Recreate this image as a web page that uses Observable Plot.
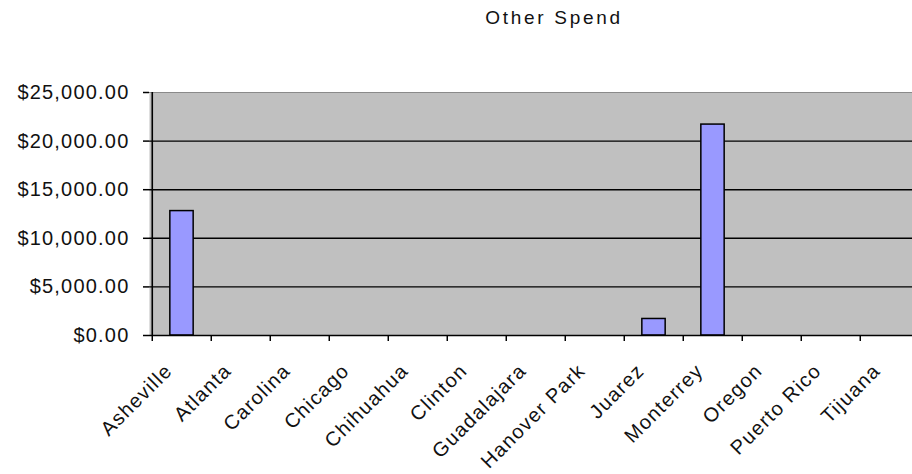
<!DOCTYPE html>
<html>
<head>
<meta charset="utf-8">
<script src="https://cdn.jsdelivr.net/npm/d3@7"></script>
<script src="https://cdn.jsdelivr.net/npm/@observablehq/plot@0.6"></script>
<style>
  html, body { margin: 0; padding: 0; background: #fff; }
  #chart { position: relative; width: 912px; height: 474px; overflow: hidden; }
  #title {
    position: absolute; top: 7px; left: 554px; transform: translateX(-50%);
    font-family: "Liberation Sans", Arial, sans-serif; font-size: 19px;
    letter-spacing: 2.7px; color: #111; white-space: nowrap;
  }
  #chart svg { position: absolute; left: 0; top: 0; }
  #chart svg g[aria-label="y-axis tick label"] text { letter-spacing: 1.2px; }
  #chart svg g[aria-label="x-axis tick label"] text { letter-spacing: 1.3px; }
</style>
</head>
<body>
<div id="chart"><div id="title">Other Spend</div></div>
<script>
// Spend per site (USD)
const sites = ["Asheville", "Atlanta", "Carolina", "Chicago", "Chihuahua", "Clinton", "Guadalajara",
  "Hanover Park", "Juarez", "Monterrey", "Oregon", "Puerto Rico", "Tijuana"];
const spend = [12800, 0, 0, 0, 0, 0, 0, 0, 1700, 21700, 0, 0, 0];
const yTicks = [0, 5000, 10000, 15000, 20000, 25000];

const rows = sites.map((site, i) => ({site, spend: spend[i]}));

const W = 912, H = 474;
const plotLeft = 149, plotRight = 922, plotTop = 92, plotBottom = 335;
const step = (plotRight - plotLeft) / sites.length;
const font = "Liberation Sans, Arial, sans-serif";

const chart = Plot.plot({
  width: W,
  height: H,
  marginLeft: plotLeft,
  marginRight: 0,
  marginTop: plotTop,
  marginBottom: H - plotBottom,
  style: {fontFamily: font, fontSize: "19px", color: "#111", background: "transparent", overflow: "visible"},
  x: {type: "band", domain: sites, range: [plotLeft, plotRight], padding: 0},
  y: {domain: [0, 25000], range: [plotBottom, plotTop]},
  marks: [
    Plot.frame({fill: "#c0c0c0", stroke: null}),
    Plot.ruleY([25000], {stroke: "#8a8a8a", strokeWidth: 1}),
    Plot.ruleY(yTicks.filter(d => d > 0 && d < 25000), {stroke: "#000", strokeWidth: 1.4}),
    Plot.barY(rows.filter(d => d.spend > 0), {
      x: "site", y: "spend", fill: "#9999ff", stroke: "#000", strokeWidth: 1.5,
      insetLeft: step * 0.3, insetRight: step * 0.3
    }),
    Plot.ruleY([0], {stroke: "#000", strokeWidth: 1.6}),
    Plot.ruleX([sites[0]], {dx: -step / 2, y1: 0, y2: 25000, stroke: "#000", strokeWidth: 1.6}),
    Plot.axisY({
      ticks: yTicks, tickSize: 6, tickPadding: 14, tickFormat: d3.format("$,.2f"),
      stroke: "#000", strokeWidth: 1.5, fontSize: 20, label: null
    }),
    // tick marks at band boundaries
    Plot.axisX({tickSize: 6, tickFormat: () => "", dx: -step / 2, stroke: "#000", strokeWidth: 1.5, label: null}),
    Plot.axisX({
      tickSize: 0, tickPadding: 32, tickRotate: -45, dx: -13, fontSize: 20, label: null
    })
  ]
});
document.getElementById("chart").appendChild(chart);
</script>
</body>
</html>
